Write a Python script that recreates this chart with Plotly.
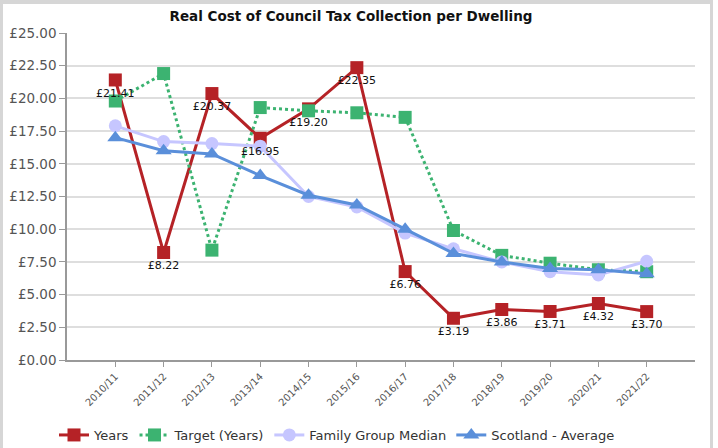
import plotly.graph_objects as go

categories = ["2010/11", "2011/12", "2012/13", "2013/14", "2014/15", "2015/16",
              "2016/17", "2017/18", "2018/19", "2019/20", "2020/21", "2021/22"]
years = [21.41, 8.22, 20.37, 16.95, 19.20, 22.35, 6.76, 3.19, 3.86, 3.71, 4.32, 3.70]
target = [19.8, 21.9, 8.4, 19.3, 19.05, 18.9, 18.55, 9.9, 8.0, 7.4, 6.9, 6.75]
family_median = [17.9, 16.7, 16.55, 16.35, 12.5, 11.7, 9.7, 8.5, 7.5, 6.75, 6.5, 7.55]
scotland_avg = [17.0, 16.0, 15.75, 14.1, 12.6, 11.85, 10.0, 8.15, 7.5, 7.0, 6.9, 6.6]
y_ticks = [0, 2.5, 5, 7.5, 10, 12.5, 15, 17.5, 20, 22.5, 25]

RED = "#b52226"
GREEN = "#3cb371"
LAV = "#c6c6ff"
BLUE = "#5a8fda"
FONT = "DejaVu Sans"

x = list(range(len(categories)))

fig = go.Figure()
fig.add_trace(go.Scatter(x=x, y=years, name="Years", mode="lines+markers",
                         line=dict(color=RED, width=3),
                         marker=dict(symbol="square", size=13, color=RED)))
fig.add_trace(go.Scatter(x=x, y=target, name="Target (Years)", mode="lines+markers",
                         line=dict(color=GREEN, width=3, dash="dot"),
                         marker=dict(symbol="square", size=13, color=GREEN)))
fig.add_trace(go.Scatter(x=x, y=family_median, name="Family Group Median", mode="lines+markers",
                         line=dict(color=LAV, width=3),
                         marker=dict(symbol="circle", size=13, color=LAV)))
fig.add_trace(go.Scatter(x=x, y=scotland_avg, name="Scotland - Average", mode="lines+markers",
                         line=dict(color=BLUE, width=3),
                         marker=dict(symbol="triangle-up", size=14, color=BLUE)))
fig.add_trace(go.Scatter(x=x, y=years, mode="markers+text", showlegend=False, hoverinfo="skip",
                         marker=dict(size=12, opacity=0),
                         text=["£%.2f" % v for v in years], textposition="bottom center",
                         textfont=dict(family=FONT, size=11, color="#111111")))

fig.update_layout(
    width=718, height=448,
    margin=dict(l=67, r=23, t=33, b=88),
    paper_bgcolor="white", plot_bgcolor="white",
    title=dict(text="<b>Real Cost of Council Tax Collection per Dwelling</b>",
               x=351 / 718, xanchor="center", y=1 - 16 / 448, yanchor="middle",
               font=dict(family=FONT, size=13.5, color="#111111")),
    xaxis=dict(range=[-1, 12], tickmode="array", tickvals=x, ticktext=categories,
               tickangle=-45, tickfont=dict(family=FONT, size=10, color="#555555"),
               showgrid=False, showline=True, linecolor="#999999", linewidth=1.5,
               ticks="outside", ticklen=5, tickcolor="#999999", zeroline=False,
               automargin=False),
    yaxis=dict(range=[0, 25], tickmode="array", tickvals=y_ticks,
               ticktext=["£%.2f" % v for v in y_ticks],
               tickfont=dict(family=FONT, size=13.5, color="#555555"),
               showgrid=True, gridcolor="#dedede", gridwidth=1.5,
               showline=True, linecolor="#999999", linewidth=1.5,
               ticks="outside", ticklen=6, tickcolor="#999999", zeroline=False,
               automargin=False),
    legend=dict(orientation="h", x=337 / 718, xref="container", xanchor="center",
                y=13 / 448, yref="container", yanchor="middle",
                font=dict(family=FONT, size=13, color="#333333"),
                itemwidth=30, tracegroupgap=0),
    showlegend=True,
)

# page frame bands
fig.add_shape(type="rect", xref="paper", yref="paper", layer="above",
              x0=-67 / 628, x1=(713 - 67) / 628, y0=1 + 29 / 327, y1=1 + 33 / 327,
              fillcolor="#d6d6d6", line_width=0)
fig.add_shape(type="rect", xref="paper", yref="paper", layer="above",
              x0=-67 / 628, x1=-64 / 628, y0=-88 / 327, y1=1 + 33 / 327,
              fillcolor="#d6d6d6", line_width=0)
fig.add_shape(type="rect", xref="paper", yref="paper", layer="above",
              x0=(710 - 67) / 628, x1=(713 - 67) / 628, y0=-88 / 327, y1=1 + 33 / 327,
              fillcolor="#d6d6d6", line_width=0)

fig.write_html("out.html", config={"displayModeBar": False},
               post_script="document.body.style.margin='0px';document.body.style.overflow='hidden';")
